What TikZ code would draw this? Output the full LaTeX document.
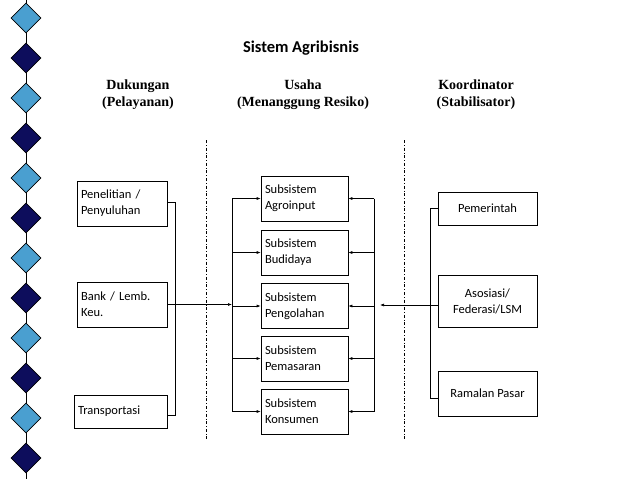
\documentclass[tikz,border=0pt]{standalone}
\usepackage{fontspec}
\setmainfont{Liberation Serif}
\newfontfamily\boxfont{Carlito}
\usetikzlibrary{arrows.meta,shapes.geometric}
\definecolor{lightdia}{HTML}{4A9FD0}
\definecolor{darkdia}{HTML}{0D0D5C}
\tikzset{
  box/.style={draw, font=\boxfont\fontsize{12.5}{16}\selectfont, align=left, inner sep=4pt},
  dia/.style={draw, diamond, minimum size=30pt, inner sep=0pt},
  head/.style={font=\bfseries\fontsize{14}{17}\selectfont, align=center},
  sep/.style={dash dot, line width=0.6pt},
  arr/.style={-{Latex[length=4pt,width=3pt]}}
}
\begin{document}
\begin{tikzpicture}[x=1pt,y=-1pt,line width=0.6pt]
  \useasboundingbox (0,0) rectangle (638,479);
  \draw (26,0) -- (26,479);
  \foreach \i in {0,...,11} {
    \pgfmathsetmacro{\yy}{18+40*\i}
    \ifodd\i
      \node[dia, fill=darkdia] (d\i) at (26,\yy) {};
    \else
      \node[dia, fill=lightdia] (d\i) at (26,\yy) {};
    \fi
  }

  \node[font=\boxfont\bfseries\fontsize{16.5}{19}\selectfont] (title) at (301,48) {Sistem Agribisnis};
  \node[head] (hdukung) at (138,95) {Dukungan\\(Pelayanan)};
  \node[head] (husaha) at (303,95) {Usaha\\(Menanggung Resiko)};
  \node[head] (hkoord) at (476,95) {Koordinator\\(Stabilisator)};

  \draw[sep] (206,140) -- (206,440);
  \draw[sep] (404,140) -- (404,440);

  % dukungan
  \node[box, minimum width=90pt, minimum height=45pt, text width=82pt] (penelitian) at (122,203.5) {Penelitian /\\Penyuluhan};
  \node[box, minimum width=90pt, minimum height=45pt, text width=82pt] (bank) at (122,304.5) {Bank / Lemb.\\Keu.};
  \node[box, minimum width=93pt, minimum height=33pt, text width=85pt] (transport) at (120.5,411.5) {Transportasi};

  % usaha
  \node[box, minimum width=87pt, minimum height=45pt, text width=79pt] (agro) at (304.5,198.5) {Subsistem\\Agroinput};
  \node[box, minimum width=87pt, minimum height=45pt, text width=79pt] (budi) at (304.5,252.5) {Subsistem\\Budidaya};
  \node[box, minimum width=87pt, minimum height=45pt, text width=79pt] (olah) at (304.5,306) {Subsistem\\Pengolahan};
  \node[box, minimum width=87pt, minimum height=45pt, text width=79pt] (pasar) at (304.5,358.5) {Subsistem\\Pemasaran};
  \node[box, minimum width=87pt, minimum height=45pt, text width=79pt] (konsumen) at (304.5,411.5) {Subsistem\\Konsumen};

  % koordinator
  \node[box, minimum width=99pt, minimum height=33pt, align=center] (pemerintah) at (487.5,208.5) {Pemerintah};
  \node[box, minimum width=99pt, minimum height=52pt, align=center] (asosiasi) at (487.5,301) {Asosiasi/\\Federasi/LSM};
  \node[box, minimum width=99pt, minimum height=45pt, align=center] (ramalan) at (487.5,393.5) {Ramalan Pasar};

  \coordinate (lb) at (175,0);
  \coordinate (lm) at (232,0);
  \coordinate (rm) at (374,0);
  \coordinate (rb) at (430,0);
  \coordinate (tip) at (380,0);

  \draw (penelitian.east |- 0,202) -- (lb |- 0,202) -- (lb |- 0,415) -- (transport.east |- 0,415);
  \draw[arr] (bank.east) -- (lm |- bank.east);
  \draw (lm |- agro.west) -- (lm |- konsumen.west);
  \draw (rm |- agro.east) -- (rm |- konsumen.east);
  \foreach \b in {agro,budi,olah,pasar,konsumen} {
    \draw[arr] (lm |- \b.west) -- (\b.west);
    \draw[arr] (rm |- \b.east) -- (\b.east);
  }
  \draw (pemerintah.west) -- (rb |- pemerintah.west) -- (rb |- 0,398) -- (ramalan.west |- 0,398);
  \draw[arr] (asosiasi.west |- 0,305) -- (tip |- 0,305);
\end{tikzpicture}
\end{document}
